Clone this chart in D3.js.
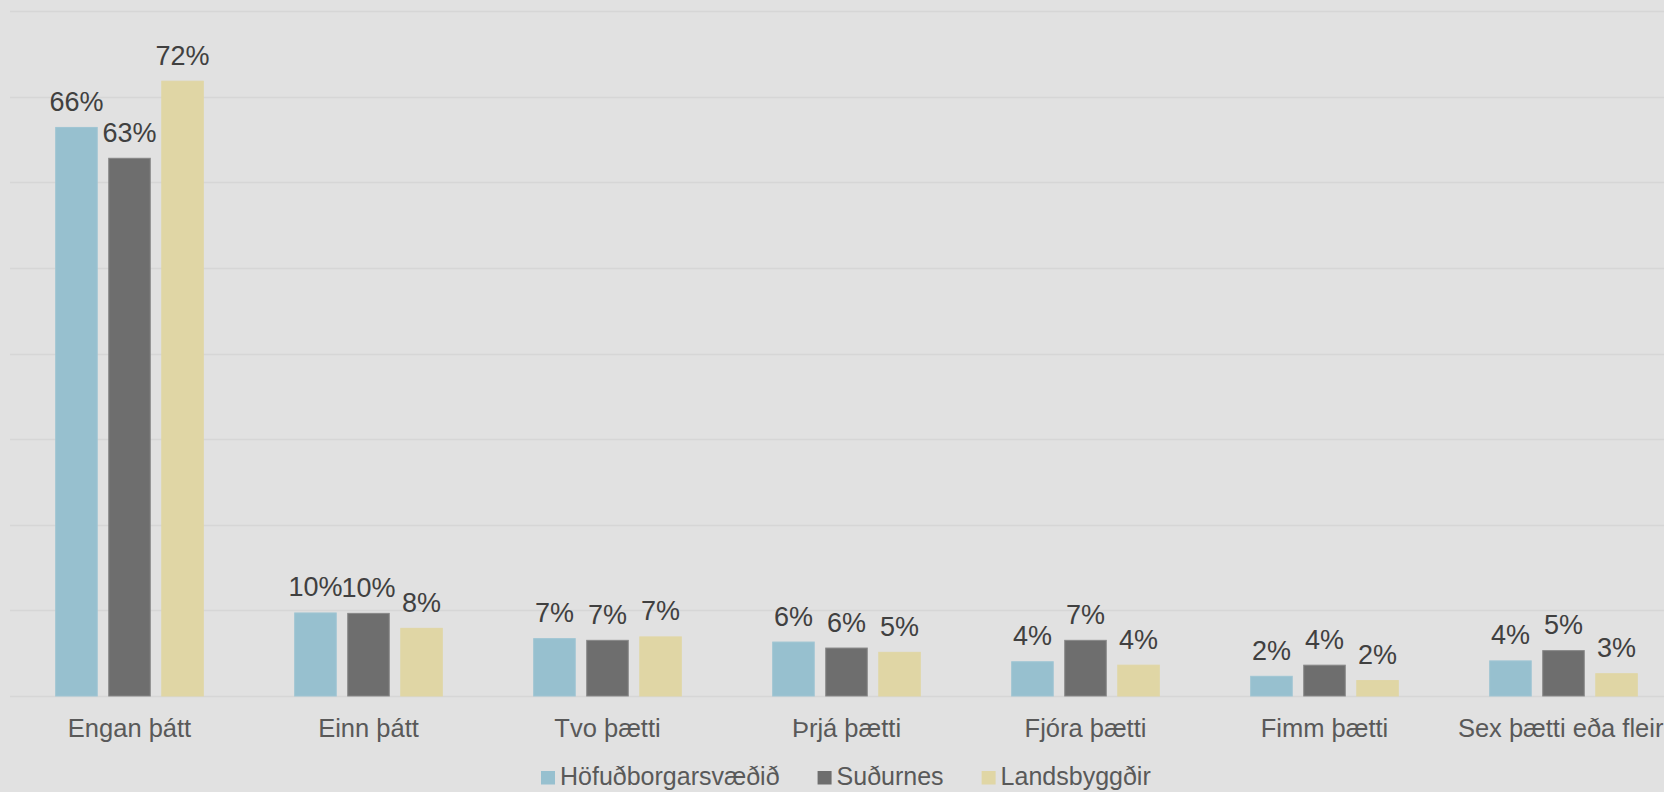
<!DOCTYPE html>
<html>
<head>
<meta charset="utf-8">
<script src="https://cdn.jsdelivr.net/npm/d3@7"></script>
<style>
  html, body { margin: 0; padding: 0; background: #e1e1e1; }
  svg { display: block; }
  text { font-family: "Liberation Sans", Arial, sans-serif; }
</style>
</head>
<body>
<svg id="chart" width="1664" height="792"></svg>
<script>
const categories = ["Engan þátt", "Einn þátt", "Tvo þætti", "Þrjá þætti", "Fjóra þætti", "Fimm þætti", "Sex þætti eða fleiri"];
const seriesNames = ["Höfuðborgarsvæðið", "Suðurnes", "Landsbyggðir"];
const hofudborg = [66.4, 9.7, 6.7, 6.3, 4.0, 2.3, 4.1];
const sudurnes = [62.8, 9.65, 6.5, 5.6, 6.5, 3.6, 5.3];
const landsbyggdir = [71.8, 7.9, 6.9, 5.1, 3.6, 1.8, 2.6];
const yTicks = [0, 10, 20, 30, 40, 50, 60, 70, 80];
const colors = ["#97c0cf", "#6e6e6e", "#e0d6a5"];
const strokes = ["#9fc5d3", "#878787", "#e0d6a5"];

const seriesValues = [hofudborg, sudurnes, landsbyggdir];
const rows = categories.map((c, i) => ({
  cat: c,
  vals: seriesNames.map((s, j) => ({ s, j, v: seriesValues[j][i] }))
}));

const svg = d3.select("#chart");
const W = 1664, H = 792;
svg.append("rect").attr("width", W).attr("height", H).attr("fill", "#e1e1e1");

const x0 = d3.scaleBand().domain(categories).range([10, 1683]).padding(0);
const inset = 45.7;
const x1 = d3.scaleBand().domain(seriesNames).range([inset, x0.bandwidth() - inset]).paddingInner(0.217).paddingOuter(0);
const y = d3.scaleLinear().domain([0, 80]).range([696, 11]);

// gridlines
svg.append("g").selectAll("line").data(yTicks).join("line")
  .attr("x1", 10).attr("x2", W)
  .attr("y1", d => Math.round(y(d)) + 0.5).attr("y2", d => Math.round(y(d)) + 0.5)
  .attr("stroke", "#d6d6d6").attr("stroke-width", 1.3);

const g = svg.append("g").selectAll("g").data(rows).join("g")
  .attr("transform", d => `translate(${x0(d.cat)},0)`);

g.selectAll("rect").data(d => d.vals).join("rect")
  .attr("x", d => x1(d.s))
  .attr("y", d => y(d.v))
  .attr("width", x1.bandwidth())
  .attr("height", d => y(0) - y(d.v))
  .attr("fill", d => colors[d.j])
  .attr("stroke", d => strokes[d.j])
  .attr("stroke-width", 1);

g.selectAll("text").data(d => d.vals).join("text")
  .attr("x", d => x1(d.s) + x1.bandwidth() / 2)
  .attr("y", d => y(d.v) - 16.5)
  .attr("text-anchor", "middle")
  .attr("font-size", "27px")
  .attr("fill", "#404040")
  .text(d => Math.round(d.v) + "%");

// category axis labels
const xAxis = d3.axisBottom(x0).tickSize(0).tickPadding(0);
const ax = svg.append("g").attr("transform", "translate(0,696)").call(xAxis);
ax.select(".domain").remove();
ax.selectAll("text")
  .attr("y", 40.7).attr("dy", null)
  .attr("font-size", "25.5px")
  .attr("font-family", "'Liberation Sans', Arial, sans-serif")
  .attr("fill", "#595959");

// legend
const legend = svg.append("g");
let lx = 541;
seriesNames.forEach((s, j) => {
  legend.append("rect").attr("x", lx).attr("y", 771).attr("width", 14).attr("height", 13.5).attr("fill", colors[j]);
  const t = legend.append("text").attr("x", lx + 19).attr("y", 785)
    .attr("font-size", "25px").attr("fill", "#595959").text(s);
  lx += 19 + t.node().getComputedTextLength() + 38;
});
</script>
</body>
</html>
